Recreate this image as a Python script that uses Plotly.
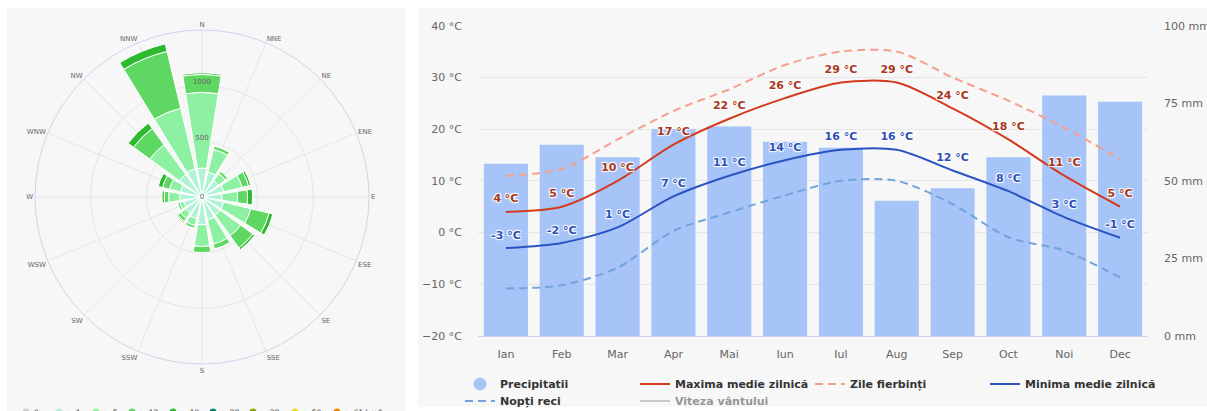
import plotly.graph_objects as go

# ---------------- data ----------------
# Wind rose (hours per year by direction and speed class)
directions = ["N", "NNE", "NE", "ENE", "E", "ESE", "SE", "SSE",
              "S", "SSW", "SW", "WSW", "W", "WNW", "NW", "NNW"]
wind_gt1 = [260, 230, 180, 200, 180, 200, 200, 210, 250, 200, 180, 170, 200, 200, 250, 260]
wind_gt5 = [680, 210, 80, 170, 140, 250, 230, 225, 195, 65, 60, 35, 100, 100, 330, 560]
wind_gt12 = [160, 30, 25, 60, 90, 170, 135, 45, 55, 25, 30, 20, 40, 65, 180, 525]
wind_gt19 = [15, 0, 0, 20, 45, 35, 20, 0, 0, 5, 10, 0, 20, 40, 60, 70]
radial_ticks = [0, 500, 1000]

speed_labels = ["0", "> 1", "> 5", "> 12", "> 19", "> 28", "> 38", "> 50", "> 61 km/h"]
speed_colors = ["#cfcfcf", "#b0f2d6", "#8ef0a2", "#5ed862", "#2eb92e",
                "#00876c", "#8fa600", "#e3e01a", "#f08a00"]

# Climate chart
months = ["Ian", "Feb", "Mar", "Apr", "Mai", "Iun", "Iul", "Aug", "Sep", "Oct", "Noi", "Dec"]
precip_mm = [55.5, 61.6, 57.6, 66.7, 67.5, 62.6, 60.7, 43.6, 47.6, 57.6, 77.5, 75.5]
tmax = [4, 5, 10, 17, 22, 26, 29, 29, 24, 18, 11, 5]
tmin = [-3, -2, 1, 7, 11, 14, 16, 16, 12, 8, 3, -1]
hot_days = [11, 12.3, 18, 23.5, 27.7, 32.4, 35, 35, 30, 25.5, 20.3, 14.2]
cold_nights = [-10.8, -10.2, -6.8, 0.3, 3.9, 7.2, 10, 10, 5.5, -0.9, -3.5, -8.7]
temp_ticks = [-20, -10, 0, 10, 20, 30, 40]
precip_ticks = [0, 25, 50, 75, 100]

# ---------------- helpers (layout only) ----------------
W, H = 1207, 411


def fx(px):
    return px / W


def fy(py):
    return 1 - py / H


def fmt_num(v):
    return f"\u2212{abs(v)}" if v < 0 else f"{v}"


FONT = "DejaVu Sans"
BAR_BLUE = "#a6c4f7"
RED = "#d43b1d"
RED_TXT = "#a8361c"
BLUE = "#2a53c2"
BLUE_TXT = "#2d4fb8"
SALMON = "#f5a08c"
LIGHTBLUE = "#72a3dc"
OUTLINE = ("1px 1px 1px #ffffff, -1px -1px 1px #ffffff, "
           "1px -1px 1px #ffffff, -1px 1px 1px #ffffff")
INVISIBLE_MARKER = dict(size=9, color="rgba(0,0,0,0)")

fig = go.Figure()

# ---------------- wind rose ----------------
wind_series = [wind_gt1, wind_gt5, wind_gt12, wind_gt19]
for vals, lab, col in zip(wind_series, speed_labels[1:5], speed_colors[1:5]):
    fig.add_trace(go.Barpolar(
        r=vals, theta=directions, name=lab, subplot="polar",
        marker=dict(color=col, line=dict(color="#ffffff", width=1)),
        showlegend=False, hoverinfo="skip"))

fig.add_trace(go.Scatterpolar(
    r=radial_ticks, theta=[directions[0]] * len(radial_ticks),
    mode="text", text=[str(v) for v in radial_ticks],
    textposition=["middle center", "top center", "top center"],
    textfont=dict(family=FONT, size=7, color="#666666"),
    subplot="polar", showlegend=False, hoverinfo="skip"))

# ---------------- climate chart ----------------
fig.add_trace(go.Bar(
    x=months, y=precip_mm, xaxis="x", yaxis="y",
    marker=dict(color=BAR_BLUE, line=dict(width=0)),
    showlegend=False, hoverinfo="skip", name="Precipitatii"))

fig.add_trace(go.Scatter(
    x=[None], y=[None], xaxis="x", yaxis="y", mode="markers",
    marker=dict(symbol="circle", size=13, color=BAR_BLUE),
    name="Precipitatii", legend="legend"))

fig.add_trace(go.Scatter(
    x=months, y=tmax, xaxis="x", yaxis="y2", mode="lines+markers+text",
    line=dict(color=RED, width=2, shape="spline", smoothing=0.8),
    marker=INVISIBLE_MARKER,
    text=[f"{v} °C" for v in tmax], textposition="top center",
    textfont=dict(family=FONT, size=11, color=RED_TXT, weight="bold", shadow=OUTLINE),
    name="Maxima medie zilnică", legend="legend", hoverinfo="skip"))

fig.add_trace(go.Scatter(
    x=months, y=hot_days, xaxis="x", yaxis="y2", mode="lines",
    line=dict(color=SALMON, width=2, shape="spline", smoothing=0.8, dash="8px,5px"),
    name="Zile fierbinți", legend="legend", hoverinfo="skip"))

fig.add_trace(go.Scatter(
    x=months, y=tmin, xaxis="x", yaxis="y2", mode="lines+markers+text",
    line=dict(color=BLUE, width=2, shape="spline", smoothing=0.8),
    marker=INVISIBLE_MARKER,
    text=[f"{v} °C" for v in tmin], textposition="top center",
    textfont=dict(family=FONT, size=11, color=BLUE_TXT, weight="bold", shadow=OUTLINE),
    name="Minima medie zilnică", legend="legend", hoverinfo="skip"))

fig.add_trace(go.Scatter(
    x=months, y=cold_nights, xaxis="x", yaxis="y2", mode="lines",
    line=dict(color=LIGHTBLUE, width=2, shape="spline", smoothing=0.8, dash="8px,5px"),
    name="Nopți reci", legend="legend2", hoverinfo="skip"))

fig.add_trace(go.Scatter(
    x=[None], y=[None], xaxis="x", yaxis="y2", mode="lines",
    line=dict(color="#999999", width=2),
    visible="legendonly",
    name="Viteza vântului", legend="legend2", hoverinfo="skip"))

# ---------------- panels, left legend ----------------
shapes = [
    dict(type="rect", xref="paper", yref="paper", layer="below",
         x0=fx(7), x1=fx(406), y0=fy(411), y1=fy(8),
         fillcolor="#f7f7f7", line=dict(width=0)),
    dict(type="rect", xref="paper", yref="paper", layer="below",
         x0=fx(418), x1=fx(1207), y0=fy(407), y1=fy(8),
         fillcolor="#f7f7f7", line=dict(width=0)),
]
annotations = []
legend_marker_px = [26, 59, 96, 132, 173, 213, 253, 295, 337]
legend_y_px = 412
for lab, col, mx in zip(speed_labels, speed_colors, legend_marker_px):
    shapes.append(dict(type="circle", xref="paper", yref="paper",
                       x0=fx(mx - 3.5), x1=fx(mx + 3.5),
                       y0=fy(legend_y_px + 3.5), y1=fy(legend_y_px - 3.5),
                       fillcolor=col, line=dict(width=0)))
    annotations.append(dict(xref="paper", yref="paper", x=fx(mx + 6), y=fy(legend_y_px),
                            xanchor="left", yanchor="middle", showarrow=False,
                            text=lab, font=dict(family=FONT, size=7.5, color="#333333")))

legend_common = dict(orientation="h", xanchor="left", yanchor="middle",
                     bgcolor="rgba(0,0,0,0)", entrywidth=130, entrywidthmode="pixels",
                     itemwidth=30, traceorder="normal",
                     font=dict(family=FONT, size=11, color="#333333", weight="bold"))

fig.update_layout(
    width=W, height=H,
    margin=dict(l=0, r=0, t=0, b=0, autoexpand=False),
    paper_bgcolor="#ffffff", plot_bgcolor="rgba(0,0,0,0)",
    font=dict(family=FONT, color="#666666"),
    bargap=0.21,
    shapes=shapes, annotations=annotations,
    polar=dict(
        domain=dict(x=[fx(35), fx(369)], y=[fy(364), fy(30)]),
        bgcolor="rgba(0,0,0,0)", bargap=0.2, barmode="stack",
        radialaxis=dict(range=[0, 1500], tickvals=[500, 1000, 1500],
                        showticklabels=False, showline=False, ticks="",
                        gridcolor="#e6e6e6", gridwidth=1),
        angularaxis=dict(rotation=90, direction="clockwise", type="category",
                         categoryarray=directions, categoryorder="array",
                         ticks="", showline=True, linecolor="#ccd6eb", linewidth=1,
                         gridcolor="#e6e6e6", gridwidth=1,
                         tickfont=dict(family=FONT, size=7, color="#666666")),
    ),
    xaxis=dict(domain=[fx(478), fx(1148)], anchor="y", type="category",
               range=[-0.5, len(months) - 0.5],
               showgrid=False, zeroline=False, showline=True, linecolor="#ccd6eb",
               ticks="", ticklabelstandoff=8,
               tickfont=dict(family=FONT, size=11, color="#666666")),
    yaxis=dict(domain=[fy(336), fy(25.7)], anchor="x", side="right",
               range=[0, 100], tickvals=precip_ticks,
               ticktext=[f"{v} mm" for v in precip_ticks],
               showgrid=False, zeroline=False, showline=False, ticks="",
               ticklabelstandoff=15,
               tickfont=dict(family=FONT, size=11, color="#666666")),
    yaxis2=dict(overlaying="y", anchor="x", side="left",
                range=[-20, 40], tickvals=temp_ticks,
                ticktext=[f"{fmt_num(v)} °C" for v in temp_ticks],
                showgrid=True, gridcolor="#e6e6e6", zeroline=False, showline=False,
                ticks="", ticklabelstandoff=15,
                tickfont=dict(family=FONT, size=11, color="#666666")),
    legend=dict(x=fx(460), y=fy(384), **legend_common),
    legend2=dict(x=fx(460), y=fy(401), **legend_common),
)

fig.write_html(
    "out.html",
    config={"displayModeBar": False},
    post_script=("document.body.style.margin='0px';"
                 "document.body.style.overflow='hidden';"
                 "document.documentElement.style.overflow='hidden';"))
